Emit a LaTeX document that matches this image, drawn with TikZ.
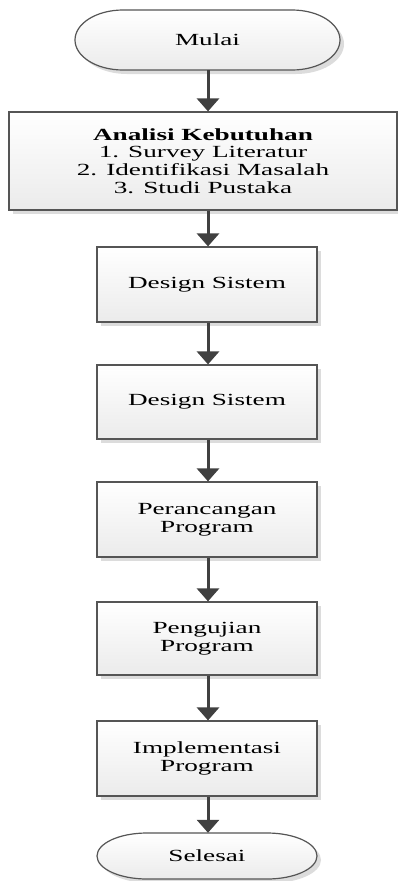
\documentclass[tikz,border=0pt]{standalone}
\usepackage{fontspec}
\setmainfont{Liberation Serif}[FakeStretch=1.6]
\usetikzlibrary{shadows,arrows.meta}
\definecolor{boxline}{HTML}{555555}
\definecolor{arrowgray}{HTML}{404040}
\definecolor{shadowgray}{HTML}{DCDCDC}
\definecolor{fillbottom}{HTML}{EBEBEB}
\tikzset{
  shade/.style={draw=boxline, line width=1.2pt, top color=white, bottom color=fillbottom,
    drop shadow={shadow xshift=4pt, shadow yshift=-4pt, fill=shadowgray, opacity=1}},
  txt/.style={font=\fontsize{17}{17.8}\selectfont, align=center, inner sep=0pt},
  box/.style={shade, txt, rectangle},
  termtext/.style={txt, rectangle, draw=none},
  flow/.style={draw=arrowgray, line width=3pt, -{Triangle[width=22pt,length=13pt]}},
}
% #1 center x, #2 center y, #3 half width, #4 half height, #5 arc x radius
\newcommand\terminalshape[5]{%
  \path[shade] (#1-#3+#5,#2-#4) -- (#1+#3-#5,#2-#4)
    arc[start angle=90,end angle=-90,x radius=#5,y radius=-#4]
    -- (#1-#3+#5,#2+#4)
    arc[start angle=270,end angle=90,x radius=#5,y radius=-#4] -- cycle;}
\begin{document}
\begin{tikzpicture}[x=1pt,y=-1pt]
\useasboundingbox (0,0) rectangle (398,881);
\clip (0,0) rectangle (398,881);
% terminals
\terminalshape{207.5}{40}{132.5}{30}{48}
\terminalshape{207}{856}{110}{23}{50}
\node[termtext, minimum width=265pt, minimum height=60pt] (mulai) at (207.5,40) {Mulai};
\node[box, minimum width=388pt, minimum height=98pt] (analisi) at (203,161)
  {\textbf{Analisi Kebutuhan}\\1. Survey Literatur\\2. Identifikasi Masalah\\3. Studi Pustaka};
\node[box, minimum width=220pt, minimum height=75pt] (design1) at (207,284.5) {Design Sistem};
\node[box, minimum width=220pt, minimum height=74pt] (design2) at (207,402) {Design Sistem};
\node[box, minimum width=220pt, minimum height=75pt] (rancang) at (207,519.5) {Perancangan\\Program};
\node[box, minimum width=220pt, minimum height=73pt] (uji) at (207,638.5) {Pengujian\\Program};
\node[box, minimum width=220pt, minimum height=75pt] (impl) at (207,758.5) {Implementasi\\Program};
\node[termtext, minimum width=220pt, minimum height=46pt] (selesai) at (207,856) {Selesai};
% connectors
\draw[flow] (mulai.south -| 208,0) -- (analisi.north -| 208,0);
\draw[flow] (analisi.south -| 208,0) -- (design1.north -| 208,0);
\draw[flow] (design1.south -| 208,0) -- (design2.north -| 208,0);
\draw[flow] (design2.south -| 208,0) -- (rancang.north -| 208,0);
\draw[flow] (rancang.south -| 208,0) -- (uji.north -| 208,0);
\draw[flow] (uji.south -| 208,0) -- (impl.north -| 208,0);
\draw[flow] (impl.south -| 208,0) -- (selesai.north -| 208,0);
\end{tikzpicture}
\end{document}
